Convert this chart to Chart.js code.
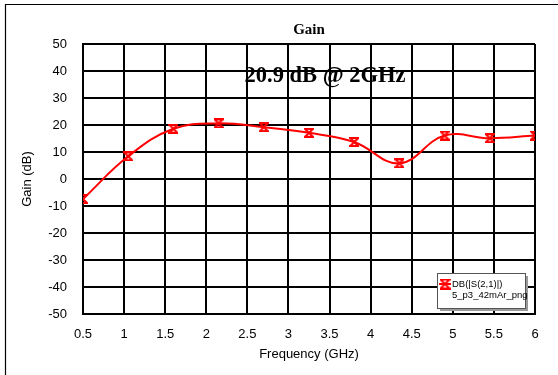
<!DOCTYPE html>
<html>
<head>
<meta charset="utf-8">
<script src="https://cdn.jsdelivr.net/npm/chart.js@4/dist/chart.umd.min.js"></script>
<style>
  html, body { margin: 0; padding: 0; background: #fff; }
  #wrap { width: 558px; height: 375px; position: relative; }
</style>
</head>
<body>
<div id="wrap"><canvas id="c" width="558" height="375"></canvas></div>
<script>
// Gain sweep of the amplifier, S21 in dB
const freqGHz = [0.5, 1.05, 1.6, 2.15, 2.7, 3.25, 3.8, 4.35, 4.9, 5.45, 6.0];
const gainDb  = [-7.4, 8.4, 18.6, 20.6, 19.2, 17.1, 13.7, 5.8, 16.1, 15.1, 16.1];

const chartTitle = 'Gain';
const peakNote = '20.9 dB @ 2GHz';
const seriesName = ['DB(|S(2,1)|)', '5_p3_42mAr_png'];
const xTitle = 'Frequency (GHz)';
const yTitle = 'Gain (dB)';

const RED = '#ff0000';

// hourglass-shaped marker (two bars joined by crossing diagonals)
function hourglass(size, color) {
  const c = document.createElement('canvas');
  c.width = size; c.height = size;
  const g = c.getContext('2d');
  g.strokeStyle = color;
  g.lineWidth = 2;
  g.lineJoin = 'miter';
  g.beginPath();
  g.moveTo(1, 1);
  g.lineTo(size - 1, 1);
  g.lineTo(1, size - 1);
  g.lineTo(size - 1, size - 1);
  g.closePath();
  g.stroke();
  return c;
}
const marker = hourglass(10, RED);

const decorations = {
  id: 'decorations',
  beforeDraw(chart) {
    const ctx = chart.ctx;
    ctx.save();
    ctx.fillStyle = '#fff';
    ctx.fillRect(0, 0, chart.width, chart.height);
    // outer frame (top and left edges)
    ctx.strokeStyle = '#000';
    ctx.lineWidth = 1.2;
    ctx.beginPath();
    ctx.moveTo(5.5, chart.height);
    ctx.lineTo(5.5, 4.5);
    ctx.lineTo(chart.width, 4.5);
    ctx.stroke();
    ctx.restore();
  },
  afterDraw(chart) {
    const ctx = chart.ctx;
    const ca = chart.chartArea;
    const cx = (ca.left + ca.right) / 2;
    ctx.save();
    // title
    ctx.fillStyle = '#000';
    ctx.textAlign = 'center';
    ctx.textBaseline = 'alphabetic';
    ctx.font = 'bold 15px "Liberation Serif", "Times New Roman", serif';
    ctx.fillText(chartTitle, cx, 34);
    // peak note
    ctx.font = 'bold 22.5px "Liberation Serif", "Times New Roman", serif';
    ctx.textBaseline = 'middle';
    ctx.fillText(peakNote, 325, 76);

    // legend box
    const bx = ca.right - 98, by = ca.bottom - 41, bw = 88, bh = 35;
    ctx.fillStyle = '#9a9a9a';
    ctx.fillRect(bx + 3, by + 3, bw, bh);
    ctx.fillStyle = '#fff';
    ctx.fillRect(bx, by, bw, bh);
    ctx.strokeStyle = '#555';
    ctx.lineWidth = 1;
    ctx.strokeRect(bx + 0.5, by + 0.5, bw, bh);
    // legend sample
    const my = by + 11;
    ctx.strokeStyle = RED;
    ctx.lineWidth = 2;
    ctx.beginPath();
    ctx.moveTo(bx + 2, my);
    ctx.lineTo(bx + 14, my);
    ctx.stroke();
    ctx.drawImage(hourglass(11, RED), bx + 2.5, my - 5.5);
    ctx.fillStyle = '#000';
    ctx.textAlign = 'left';
    ctx.textBaseline = 'middle';
    ctx.font = '9.5px "Liberation Sans", Arial, sans-serif';
    ctx.fillText(seriesName[0], bx + 15, my);
    ctx.fillText(seriesName[1], bx + 15, my + 11);
    ctx.restore();
  }
};

const tickFont = { family: '"Liberation Sans", Arial, sans-serif', size: 13 };

new Chart(document.getElementById('c'), {
  type: 'line',
  data: {
    datasets: [{
      label: seriesName[0],
      data: freqGHz.map((f, i) => ({ x: f, y: gainDb[i] })),
      borderColor: RED,
      backgroundColor: RED,
      borderWidth: 2,
      tension: 0.4,
      pointStyle: marker,
      pointRadius: 5,
      pointHoverRadius: 5
    }]
  },
  options: {
    responsive: false,
    animation: false,
    events: [],
    layout: { padding: { top: 44, right: 23, bottom: 0, left: 0 } },
    plugins: {
      legend: { display: false },
      title: { display: false },
      tooltip: { enabled: false }
    },
    scales: {
      x: {
        type: 'linear',
        min: 0.5,
        max: 6,
        afterFit(s) { s.height = 61; },
        ticks: {
          stepSize: 0.5, color: '#000', font: tickFont, padding: 13, maxRotation: 0,
          callback: (v) => String(Math.round(v * 10) / 10)
        },
        grid: { color: '#000', lineWidth: 2, drawTicks: false },
        border: { color: '#000', width: 2 },
        title: { display: true, text: xTitle, color: '#000', font: tickFont, padding: { top: 0, bottom: 13 } }
      },
      y: {
        min: -50,
        max: 50,
        afterFit(s) { s.width = 83; },
        ticks: { stepSize: 10, color: '#000', font: tickFont, padding: 16 },
        grid: { color: '#000', lineWidth: 2, drawTicks: false },
        border: { color: '#000', width: 2 },
        title: { display: true, text: yTitle, color: '#000', font: tickFont, padding: { top: 20, bottom: 0 } }
      }
    }
  },
  plugins: [decorations]
});
</script>
</body>
</html>
